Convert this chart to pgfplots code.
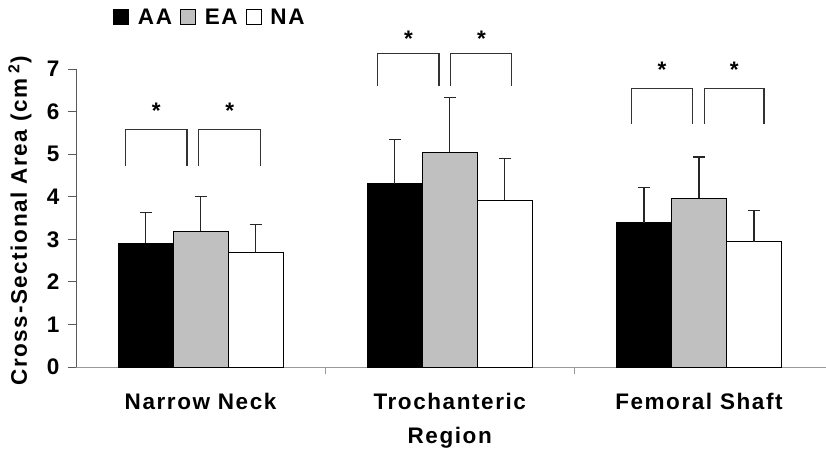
\documentclass[border=0pt]{standalone}
\usepackage{fontspec}
\setmainfont{Liberation Sans}[LetterSpace=7]
\usepackage{pgfplots}
\pgfplotsset{compat=1.18}
\definecolor{barGray}{HTML}{C0C0C0}
\newcommand\bigf{\fontsize{22.5}{34}\selectfont\bfseries}
\pgfplotsset{sqlegend/.style={legend image code/.code={\draw[##1, line width=0.8pt] (0pt,-7.5pt) rectangle (15pt,7.5pt);}},
  myerr/.style={error bars/.cd, y dir=plus, y explicit, error bar style={line width=1.3pt, draw=black!85},
  error mark options={rotate=90, mark size=6pt, line width=1.3pt, draw=black!85}}}
\begin{document}
\begin{tikzpicture}
\begin{axis}[
  scale only axis, width=750pt, height=298pt,
  xmin=-0.5, xmax=2.51, ymin=0, ymax=7,
  clip=false,
  ybar=0pt, bar width=55pt,
  axis x line=bottom, axis y line=left,
  axis line style={-},
  x axis line style={draw=black!40, line width=1pt},
  y axis line style={draw=black!65, line width=0.9pt},
  tick align=outside,
  ytick={0,1,2,3,4,5,6,7},
  major tick length=8pt,
  y tick style={draw=black!65, line width=0.9pt},
  xtick={0,1,2},
  xticklabels={Narrow Neck, Trochanteric\\Region, Femoral Shaft},
  major x tick style={draw=none},
  minor xtick={0.5,1.5},
  minor tick length=7pt,
  minor x tick style={draw=black!40, line width=0.9pt},
  /pgf/number format/assume math mode=true,
  yticklabel style={font=\bigf, xshift=-5pt},
  xticklabel style={font=\bigf, align=center, yshift=-15pt},
  every axis y label/.style={at={(axis description cs:-0.0747,0.49)}, rotate=90, anchor=center},
  ylabel={\bigf Cross-Sectional Area (cm\textsuperscript{ 2})},
  legend style={at={(axis description cs:0.0493,1.174)}, anchor=west, draw=none, fill=none,
    inner sep=0pt, font=\bigf, legend columns=3,
    /tikz/every odd column/.append style={column sep=7pt},
    /tikz/every even column/.append style={column sep=6pt}},
  legend cell align=left,
]
\addplot[fill=black, draw=black, line width=1pt, sqlegend, myerr]
  coordinates {(0,2.91) +- (0,0.72) (1,4.30) +- (0,1.05) (2,3.39) +- (0,0.82)};
\addlegendentry{AA}
\addplot[fill=barGray, draw=black, line width=1pt, sqlegend, myerr]
  coordinates {(0,3.19) +- (0,0.81) (1,5.05) +- (0,1.28) (2,3.96) +- (0,0.97)};
\addlegendentry{EA}
\addplot[fill=white, draw=black, line width=1pt, sqlegend, myerr]
  coordinates {(0,2.69) +- (0,0.66) (1,3.92) +- (0,0.98) (2,2.94) +- (0,0.73)};
\addlegendentry{NA}
% significance brackets
\draw[black!80, line width=1.3pt] (axis cs:-0.30,4.72) -- (axis cs:-0.30,5.58) -- (axis cs:-0.055,5.58) -- (axis cs:-0.055,4.72);
\draw[black!80, line width=1.3pt] (axis cs:-0.007,4.72) -- (axis cs:-0.007,5.58) -- (axis cs:0.240,5.58) -- (axis cs:0.240,4.72);
\draw[black!80, line width=1.3pt] (axis cs:0.710,6.60) -- (axis cs:0.710,7.37) -- (axis cs:0.957,7.37) -- (axis cs:0.957,6.60);
\draw[black!80, line width=1.3pt] (axis cs:1.004,6.60) -- (axis cs:1.004,7.37) -- (axis cs:1.249,7.37) -- (axis cs:1.249,6.60);
\draw[black!80, line width=1.3pt] (axis cs:1.730,5.71) -- (axis cs:1.730,6.55) -- (axis cs:1.974,6.55) -- (axis cs:1.974,5.71);
\draw[black!80, line width=1.3pt] (axis cs:2.023,5.71) -- (axis cs:2.023,6.55) -- (axis cs:2.261,6.55) -- (axis cs:2.261,5.71);
\node[anchor=base, yshift=-12pt, font=\bigf] at (axis cs:-0.178,6.11) {*};
\node[anchor=base, yshift=-12pt, font=\bigf] at (axis cs:0.117,6.11) {*};
\node[anchor=base, yshift=-12pt, font=\bigf] at (axis cs:0.834,7.80) {*};
\node[anchor=base, yshift=-12pt, font=\bigf] at (axis cs:1.127,7.80) {*};
\node[anchor=base, yshift=-12pt, font=\bigf] at (axis cs:1.852,7.09) {*};
\node[anchor=base, yshift=-12pt, font=\bigf] at (axis cs:2.142,7.09) {*};
\end{axis}
\pgfresetboundingbox
\path[use as bounding box] (-76pt,-84pt) rectangle (750pt,367pt);
\end{tikzpicture}
\end{document}
